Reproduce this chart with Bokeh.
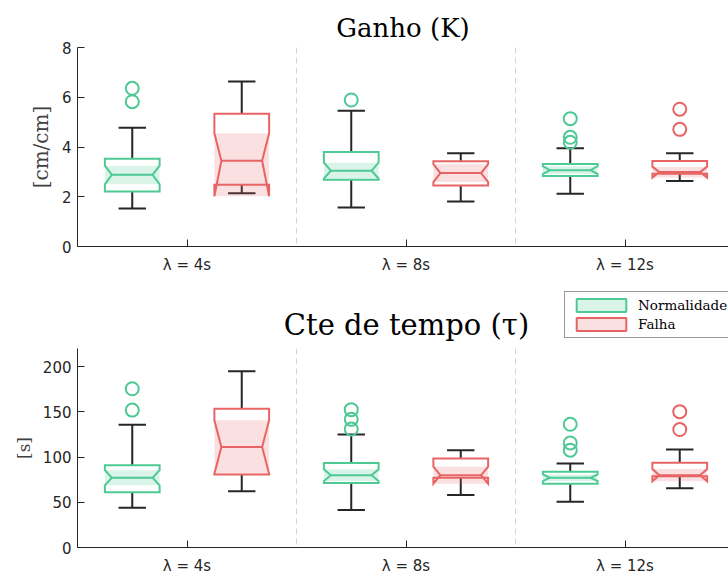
import numpy as np
from bokeh.plotting import figure
from bokeh.layouts import column
from bokeh.models import Span, FixedTicker, Legend, LegendItem, Range1d, Label
from bokeh.embed import file_html
from bokeh.resources import INLINE

# ---------------- data ----------------
groups = ["λ = 4s", "λ = 8s", "λ = 12s"]
group_pos = [1, 2, 3]

# Ganho (K) - Normalidade
k_norm_lw = [1.53, 1.57, 2.12]
k_norm_q1 = [2.21, 2.68, 2.83]
k_norm_nlo = [2.50, 2.73, 2.91]
k_norm_med = [2.88, 3.05, 3.07]
k_norm_nhi = [3.25, 3.37, 3.23]
k_norm_q3 = [3.53, 3.80, 3.32]
k_norm_uw = [4.77, 5.46, 3.95]
k_norm_out = [[5.82, 6.36], [5.89], [4.19, 4.39, 5.14]]

# Ganho (K) - Falha
k_fail_lw = [2.14, 1.81, 2.63]
k_fail_q1 = [2.48, 2.45, 2.92]
k_fail_nlo = [2.02, 2.59, 2.77]
k_fail_med = [3.45, 2.95, 2.99]
k_fail_nhi = [4.55, 3.31, 3.21]
k_fail_q3 = [5.34, 3.43, 3.44]
k_fail_uw = [6.63, 3.75, 3.75]
k_fail_out = [[], [], [4.71, 5.52]]

# Cte de tempo (tau) - Normalidade
t_norm_lw = [44.0, 41.5, 50.6]
t_norm_q1 = [61.0, 71.2, 70.5]
t_norm_nlo = [68.7, 73.4, 73.4]
t_norm_med = [77.1, 80.0, 77.1]
t_norm_nhi = [85.5, 86.6, 80.8]
t_norm_q3 = [91.0, 93.3, 83.7]
t_norm_uw = [135.8, 124.8, 92.9]
t_norm_out = [[151.9, 175.5], [131.0, 141.7, 152.4], [107.6, 115.6, 136.2]]

# Cte de tempo (tau) - Falha
t_fail_lw = [62.1, 58.0, 65.4]
t_fail_q1 = [80.8, 77.1, 78.9]
t_fail_nlo = [81.5, 70.5, 73.2]
t_fail_med = [111.2, 80.0, 80.0]
t_fail_nhi = [140.6, 89.5, 86.8]
t_fail_q3 = [153.5, 98.4, 93.6]
t_fail_uw = [194.9, 107.6, 108.3]
t_fail_out = [[], [], [130.4, 150.2]]

series_labels = ["Normalidade", "Falha"]
titles = ["Ganho (K)", "Cte de tempo (τ)"]
ylabels = ["[cm/cm]", "[s]"]

# ---------------- style ----------------
GREEN = "#4dc994"
RED = "#e86464"
DARK = "#262626"
OFFSET = 0.25
HALF_W = 0.125
NOTCH = 0.032
CAP = 0.0625
W = 728
LEFT = 77
X_RANGE = (0.5, 3.4726)


def draw_boxes(p, off, lw, q1, nlo, med, nhi, q3, uw, outs, color):
    c = [g + off for g in group_pos]
    L = [x - HALF_W for x in c]
    R = [x + HALF_W for x in c]
    # whiskers
    p.segment(x0=c, x1=c, y0=q3, y1=uw, line_color=DARK, line_width=2)
    p.segment(x0=c, x1=c, y0=q1, y1=lw, line_color=DARK, line_width=2)
    p.segment(x0=[x - CAP for x in c], x1=[x + CAP for x in c], y0=uw, y1=uw,
              line_color=DARK, line_width=2)
    p.segment(x0=[x - CAP for x in c], x1=[x + CAP for x in c], y0=lw, y1=lw,
              line_color=DARK, line_width=2)
    # confidence shading
    p.quad(left=L, right=R, bottom=nlo, top=nhi, fill_color=color,
           fill_alpha=0.2, line_color=None)
    # notched box outline
    xs, ys = [], []
    for i in range(len(c)):
        l, r = L[i], R[i]
        xs.append([l, l, l + NOTCH, l, l, r, r, r - NOTCH, r, r, l])
        ys.append([q1[i], nlo[i], med[i], nhi[i], q3[i], q3[i], nhi[i], med[i],
                   nlo[i], q1[i], q1[i]])
    p.patches(xs, ys, fill_color=None, line_color=color, line_width=2,
              line_join="miter")
    # median
    p.segment(x0=[x + NOTCH for x in L], x1=[x - NOTCH for x in R], y0=med, y1=med,
              line_color=color, line_width=2)
    # outliers
    ox, oy = [], []
    for i in range(len(c)):
        for v in outs[i]:
            ox.append(c[i])
            oy.append(v)
    p.scatter(ox, oy, marker="circle", size=13, fill_color=None,
              line_color=color, line_width=2)


def make_fig(height, title, ylabel, ysize, yend, yticks, top_border, bottom_border,
             xstand):
    p = figure(width=W, height=height,
               x_range=Range1d(*X_RANGE), y_range=Range1d(0, yend),
               output_backend="svg", toolbar_location=None,
               min_border_left=LEFT, min_border_right=0,
               min_border_top=top_border, min_border_bottom=bottom_border,
               title=title)
    if title is not None:
        p.title.text_font = "DejaVu Serif"
        p.title.text_font_size = "26px"
        p.title.text_font_style = "normal"
        p.title.align = "center"
        p.title.offset = 4
        p.title.text_color = "black"
    p.outline_line_color = None
    p.xgrid.visible = False
    p.ygrid.visible = False
    p.background_fill_color = "white"
    p.border_fill_color = "white"

    p.xaxis.ticker = FixedTicker(ticks=group_pos)
    p.xaxis.major_label_overrides = {g: t for g, t in zip(group_pos, groups)}
    p.yaxis.ticker = FixedTicker(ticks=yticks)
    for ax in (p.xaxis, p.yaxis):
        ax.axis_line_color = DARK
        ax.axis_line_width = 1
        ax.major_tick_line_color = DARK
        ax.major_tick_in = 7
        ax.major_tick_out = 0
        ax.minor_tick_line_color = None
        ax.major_label_text_font = "DejaVu Sans"
        ax.major_label_text_font_size = "15px"
        ax.major_label_text_color = DARK
    p.yaxis.major_label_standoff = 6
    p.xaxis.major_label_standoff = xstand
    p.yaxis.axis_label = ylabel
    p.yaxis.axis_label_text_font = "DejaVu Serif"
    p.yaxis.axis_label_text_font_size = ysize
    p.yaxis.axis_label_text_font_style = "normal"
    p.yaxis.axis_label_text_color = "#404040"
    p.yaxis.axis_label_standoff = 6

    for loc in (1.5, 2.5):
        p.add_layout(Span(location=loc, dimension="height", line_color="#d4d4d4",
                          line_width=1, line_dash="6 4"))
    return p


# ---- top plot: Ganho ----
p1 = make_fig(289, titles[0], ylabels[0], "20px", 8, [0, 2, 4, 6, 8], 47, 43, 9)
draw_boxes(p1, -OFFSET, k_norm_lw, k_norm_q1, k_norm_nlo, k_norm_med, k_norm_nhi,
           k_norm_q3, k_norm_uw, k_norm_out, GREEN)
draw_boxes(p1, OFFSET, k_fail_lw, k_fail_q1, k_fail_nlo, k_fail_med, k_fail_nhi,
           k_fail_q3, k_fail_uw, k_fail_out, RED)

# ---- middle strip: second title + legend ----
pm = figure(width=W, height=59, x_range=Range1d(*X_RANGE), y_range=Range1d(0, 1),
            output_backend="svg", toolbar_location=None,
            x_axis_location=None, y_axis_location=None,
            min_border_left=LEFT, min_border_right=0, min_border_top=0,
            min_border_bottom=0)
pm.grid.visible = False
pm.outline_line_color = None
pm.background_fill_color = "white"
pm.border_fill_color = "white"
pm.add_layout(Label(x=329, y=24, x_units="screen", y_units="screen",
                    text=titles[1], text_align="center", text_baseline="middle",
                    text_font="DejaVu Serif", text_font_size="29px",
                    text_color="black"))
leg_n = pm.quad(left=[np.nan], right=[np.nan], bottom=[np.nan], top=[np.nan],
                fill_color=GREEN, fill_alpha=0.2, line_color=GREEN, line_width=2)
leg_f = pm.quad(left=[np.nan], right=[np.nan], bottom=[np.nan], top=[np.nan],
                fill_color=RED, fill_alpha=0.2, line_color=RED, line_width=2)
legend = Legend(items=[LegendItem(label=series_labels[0], renderers=[leg_n]),
                       LegendItem(label=series_labels[1], renderers=[leg_f])],
                location=(487, 10))
legend.label_text_font = "DejaVu Serif"
legend.label_text_font_size = "13.5px"
legend.label_text_color = "black"
legend.glyph_width = 62
legend.glyph_height = 16
legend.label_height = 16
legend.label_standoff = 6
legend.spacing = 3
legend.padding = 5
legend.margin = 0
legend.border_line_color = "#333333"
legend.border_line_width = 1
legend.background_fill_color = "white"
legend.background_fill_alpha = 1
pm.add_layout(legend)

# ---- bottom plot: Cte de tempo ----
p2 = make_fig(230, None, ylabels[1], "17px", 220, [0, 50, 100, 150, 200], 0, 31, 9)
draw_boxes(p2, -OFFSET, t_norm_lw, t_norm_q1, t_norm_nlo, t_norm_med, t_norm_nhi,
           t_norm_q3, t_norm_uw, t_norm_out, GREEN)
draw_boxes(p2, OFFSET, t_fail_lw, t_fail_q1, t_fail_nlo, t_fail_med, t_fail_nhi,
           t_fail_q3, t_fail_uw, t_fail_out, RED)

layout = column(p1, pm, p2, spacing=0)
open("out.html", "w").write(file_html(layout, INLINE))
